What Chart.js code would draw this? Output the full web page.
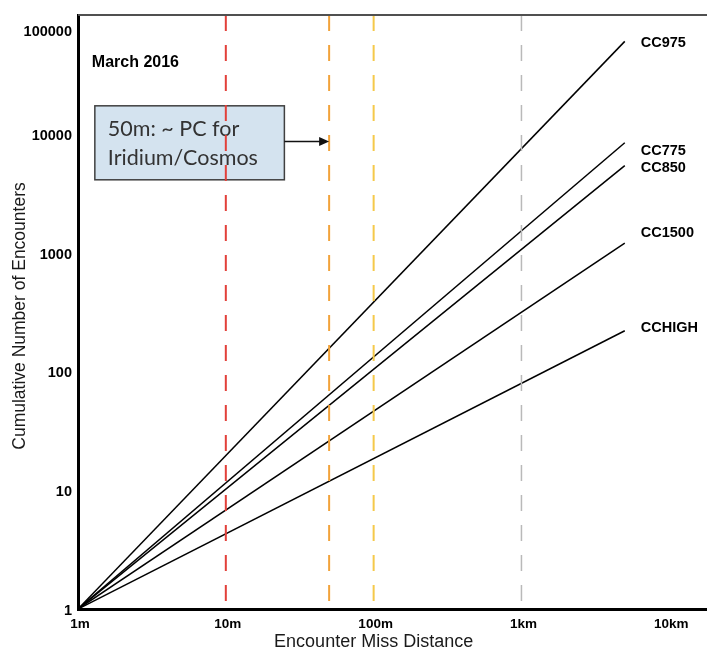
<!DOCTYPE html>
<html>
<head>
<meta charset="utf-8">
<script src="https://cdn.jsdelivr.net/npm/chart.js@4.4.1/dist/chart.umd.min.js"></script>
<style>
  html, body { margin: 0; padding: 0; background: #ffffff; overflow: hidden; }
  canvas { display: block; }
</style>
</head>
<body>
<canvas id="chart" width="707" height="653"></canvas>
<script>
// Encounter miss distance (m) at which each cumulative curve is given
const distances = [1, 5000];

// Cumulative number of encounters for each catalogue case
const seriesNames = ['CC975', 'CC775', 'CC850', 'CC1500', 'CCHIGH'];
const cc975  = [1, 60000];
const cc775  = [1, 8400];
const cc850  = [1, 5400];
const cc1500 = [1, 1200];
const cchigh = [1, 220];

// Reference miss distances marked by dashed verticals
const markerDistances = [10, 50, 100, 1000];

// Axis ticks
const xTickValues = [1, 10, 100, 1000, 10000];
const xTickLabels = ['1m', '10m', '100m', '1km', '10km'];
const yTickValues = [1, 10, 100, 1000, 10000, 100000];
const yTickLabels = ['1', '10', '100', '1000', '10000', '100000'];

// Annotation texts
const dateText = 'March 2016';
const noteLines = ['50m: ~ PC for', 'Iridium/Cosmos'];
const xTitle = 'Encounter Miss Distance';
const yTitle = 'Cumulative Number of Encounters';

// ---- drawing setup ----
const FONT = "'Liberation Sans', Arial, Helvetica, sans-serif";
const markerStyles = [
  { color: '#e2403a', width: 2 },
  { color: '#f2a23a', width: 2 },
  { color: '#f5c94a', width: 2 },
  { color: '#b9b9b9', width: 1.5 }
];
const seriesValues = [cc975, cc775, cc850, cc1500, cchigh];
// small vertical nudges so the end labels do not collide
const labelNudge = [2, 8, 2, -10, -3];

// note box corners and anchors in data units (distance, encounters)
const noteBox = { x0: 1.3, x1: 24.9, yTop: 17200, yBottom: 4100 };
const noteArrowY = 8600;
const dateAnchor = { x: 1.24, y: 40000 };

const datasets = [];
markerDistances.forEach((d, i) => {
  datasets.push({
    data: [{ x: d, y: 100000 }, { x: d, y: 1 }],
    borderColor: markerStyles[i].color,
    borderWidth: markerStyles[i].width,
    borderDash: [16, 14],
    pointRadius: 0,
    fill: false
  });
});
seriesValues.forEach((vals, i) => {
  datasets.push({
    label: seriesNames[i],
    data: distances.map((d, j) => ({ x: d, y: vals[j] })),
    borderColor: '#000000',
    borderWidth: 1.5,
    pointRadius: 0,
    fill: false
  });
});

const decorPlugin = {
  id: 'decor',
  beforeDatasetsDraw(chart) {
    const { ctx, scales: { x, y } } = chart;
    // note box
    const l = x.getPixelForValue(noteBox.x0), r = x.getPixelForValue(noteBox.x1);
    const t = y.getPixelForValue(noteBox.yTop), b = y.getPixelForValue(noteBox.yBottom);
    ctx.save();
    ctx.fillStyle = '#d4e3ef';
    ctx.fillRect(l, t, r - l, b - t);
    ctx.strokeStyle = '#404040';
    ctx.lineWidth = 1.5;
    ctx.strokeRect(l, t, r - l, b - t);
    ctx.fillStyle = '#333333';
    ctx.font = "21.5px Lato, 'Open Sans', sans-serif";
    ctx.textBaseline = 'middle';
    ctx.textAlign = 'left';
    const mid = (t + b) / 2;
    ctx.fillText(noteLines[0], l + 13, mid - 14);
    ctx.fillText(noteLines[1], l + 13, mid + 15);
    ctx.restore();
  },
  afterDatasetsDraw(chart) {
    const { ctx, chartArea: ca, scales: { x, y } } = chart;
    ctx.save();

    // top frame line
    ctx.strokeStyle = '#505050';
    ctx.lineWidth = 2;
    ctx.beginPath();
    ctx.moveTo(ca.left, ca.top);
    ctx.lineTo(ca.right, ca.top);
    ctx.stroke();

    // arrow from the note box to the 50 m marker
    const ax0 = x.getPixelForValue(noteBox.x1);
    const ax1 = x.getPixelForValue(markerDistances[1]);
    const ay = y.getPixelForValue(noteArrowY);
    ctx.strokeStyle = '#111111';
    ctx.fillStyle = '#111111';
    ctx.lineWidth = 1.5;
    ctx.beginPath();
    ctx.moveTo(ax0, ay);
    ctx.lineTo(ax1 - 9, ay);
    ctx.stroke();
    ctx.beginPath();
    ctx.moveTo(ax1, ay);
    ctx.lineTo(ax1 - 10, ay - 4.5);
    ctx.lineTo(ax1 - 10, ay + 4.5);
    ctx.closePath();
    ctx.fill();

    // date caption
    ctx.fillStyle = '#000000';
    ctx.font = 'bold 16px ' + FONT;
    ctx.textAlign = 'left';
    ctx.textBaseline = 'middle';
    ctx.fillText(dateText, x.getPixelForValue(dateAnchor.x), y.getPixelForValue(dateAnchor.y));

    // series end labels
    ctx.font = 'bold 14.5px ' + FONT;
    seriesValues.forEach((vals, i) => {
      const n = vals.length - 1;
      const px = x.getPixelForValue(distances[n]) + 16;
      const py = y.getPixelForValue(vals[n]) + labelNudge[i];
      ctx.fillText(seriesNames[i], px, py);
    });

    // y tick labels
    ctx.font = 'bold 14.5px ' + FONT;
    ctx.textAlign = 'right';
    yTickValues.forEach((v, i) => {
      let py = y.getPixelForValue(v) + 2;
      py = Math.max(py, ca.top + 17);
      ctx.fillText(yTickLabels[i], ca.left - 6, py);
    });

    // x tick labels
    ctx.textAlign = 'center';
    ctx.font = 'bold 13.5px ' + FONT;
    xTickValues.forEach((v, i) => {
      ctx.fillText(xTickLabels[i], x.getPixelForValue(v) + 2, ca.bottom + 15);
    });

    // axis titles
    ctx.font = '18px ' + FONT;
    ctx.fillStyle = '#1a1a1a';
    const xMid = (x.getPixelForValue(xTickValues[0]) + x.getPixelForValue(xTickValues[xTickValues.length - 1])) / 2;
    ctx.fillText(xTitle, xMid, ca.bottom + 33);
    ctx.font = '17.5px ' + FONT;
    ctx.translate(20, (ca.top + ca.bottom) / 2 + 4);
    ctx.rotate(-Math.PI / 2);
    ctx.fillText(yTitle, 0, 0);

    ctx.restore();
  }
};

new Chart(document.getElementById('chart'), {
  type: 'line',
  data: { datasets },
  options: {
    responsive: false,
    animation: false,
    devicePixelRatio: 1,
    layout: { padding: { top: 15, right: 0, bottom: 0, left: 0 } },
    plugins: { legend: { display: false }, tooltip: { enabled: false } },
    scales: {
      x: {
        type: 'logarithmic',
        min: 1,
        max: 18000,
        grid: { display: false },
        border: { display: true, color: '#000000', width: 3 },
        ticks: { display: false },
        afterFit(s) { s.height = 44; }
      },
      y: {
        type: 'logarithmic',
        min: 1,
        max: 100000,
        grid: { display: false },
        border: { display: true, color: '#000000', width: 3 },
        ticks: { display: false },
        afterFit(s) { s.width = 78; }
      }
    }
  },
  plugins: [decorPlugin]
});
</script>
</body>
</html>
